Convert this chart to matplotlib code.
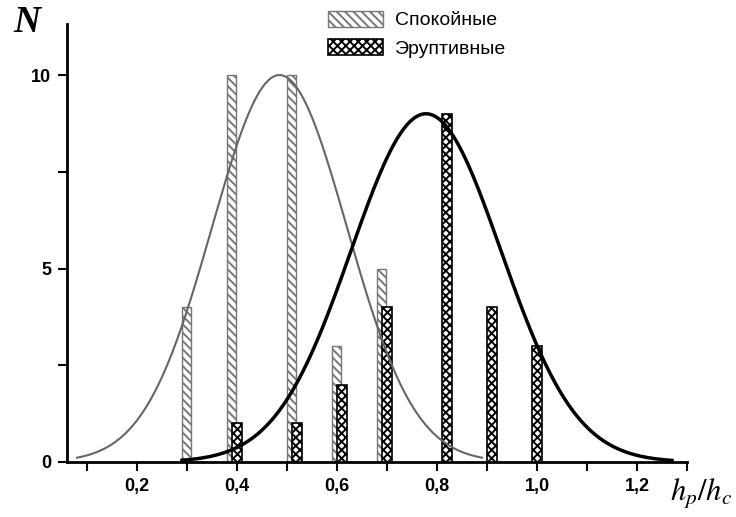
import matplotlib
matplotlib.use("Agg")
import matplotlib.pyplot as plt
import numpy as np
from matplotlib.patches import Patch

# histogram data
calm_x = [0.30, 0.39, 0.51, 0.60, 0.69]
calm_n = [4, 10, 10, 3, 5]
erupt_x = [0.40, 0.52, 0.61, 0.70, 0.82, 0.91, 1.00]
erupt_n = [1, 1, 2, 4, 9, 4, 3]

# gaussian fits (amplitude, centre, sigma, drawn range)
calm_fit = (10.0, 0.485, 0.135, 0.08, 0.89)
erupt_fit = (9.0, 0.778, 0.150, 0.29, 1.27)

labels = ["Спокойные", "Эруптивные"]

plt.rcParams['font.family'] = ['Liberation Sans', 'DejaVu Sans']
plt.rcParams['hatch.linewidth'] = 1.4
plt.rcParams['mathtext.fontset'] = 'stix'

fig = plt.figure(figsize=(7.36, 5.17), dpi=100)
ax = fig.add_axes([67 / 736, 1 - 462 / 517, 620 / 736, 438 / 517])

ax.bar(calm_x, calm_n, width=0.018, color='white', edgecolor='#777777',
       hatch='\\\\\\\\', linewidth=1.0, zorder=2)
ax.bar(erupt_x, erupt_n, width=0.020, color='white', edgecolor='black',
       hatch='xxxx', linewidth=1.2, zorder=3)


def gauss(fit):
    a, mu, s, lo, hi = fit
    x = np.linspace(lo, hi, 300)
    return x, a * np.exp(-(x - mu) ** 2 / (2 * s ** 2))


gx, gy = gauss(calm_fit)
ax.plot(gx, gy, color='#666666', linewidth=1.5, zorder=4)
bx, by = gauss(erupt_fit)
ax.plot(bx, by, color='black', linewidth=2.5, zorder=5)

ax.set_xlim(0.06, 1.30)
ax.set_ylim(0, 11.32)
ax.set_xticks([0.2, 0.4, 0.6, 0.8, 1.0, 1.2])
ax.set_xticklabels(['0,2', '0,4', '0,6', '0,8', '1,0', '1,2'])
ax.set_xticks(np.arange(0.1, 1.31, 0.1), minor=True)
ax.set_yticks([0, 5, 10])
ax.set_yticks([2.5, 7.5], minor=True)
for s in ['top', 'right']:
    ax.spines[s].set_visible(False)
for s in ['left', 'bottom']:
    ax.spines[s].set_linewidth(2)
ax.tick_params(which='both', direction='out', length=6.5, width=1.5)
ax.tick_params(axis='both', labelsize=13, pad=5)
for t in ax.get_xticklabels() + ax.get_yticklabels():
    t.set_fontweight('bold')

fig.text(27 / 736, 1 - 23 / 517, 'N', family='Liberation Serif', style='italic',
         weight='bold', fontsize=27, ha='center', va='center')
fig.text(701 / 736, 1 - 494 / 517, r'$h_p/h_c$', fontsize=22, ha='center', va='center')

handles = [Patch(facecolor='white', edgecolor='#777777', hatch='\\\\\\\\', linewidth=1.0),
           Patch(facecolor='white', edgecolor='black', hatch='xxxx', linewidth=1.2)]
fig.legend(handles, labels, loc='upper left', bbox_to_anchor=(328 / 736, 1 - 11 / 517),
           frameon=False, fontsize=14, handlelength=2.85, handleheight=0.85,
           borderpad=0, borderaxespad=0, labelspacing=0.5, handletextpad=0.57)

fig.savefig('out.png', dpi=100)
